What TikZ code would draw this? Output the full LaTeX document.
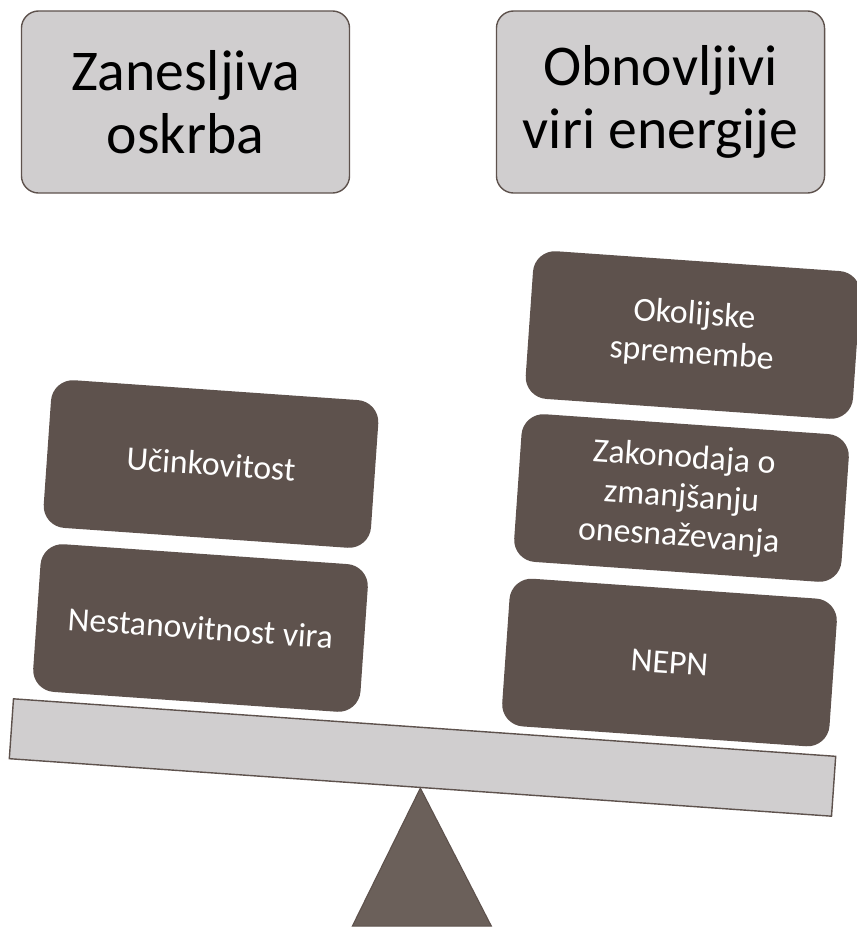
\documentclass[tikz,border=0pt]{standalone}
\usepackage{fontspec}
\setmainfont{Carlito}
\usepackage{tikz}
\usetikzlibrary{positioning}
\definecolor{weightbrown}{HTML}{5E524D}
\definecolor{beamgray}{HTML}{D0CECF}
\definecolor{pivotbrown}{HTML}{6B605A}

\begin{document}
\begin{tikzpicture}[x=0.025cm, y=-0.025cm,
	goal/.style={draw=weightbrown, line width=1pt, fill=beamgray, rounded corners=0.43cm,
		minimum width=8.2cm, minimum height=4.55cm, align=center,
		font=\fontsize{41}{45}\selectfont},
	weight/.style={fill=weightbrown, rounded corners=0.55cm, rotate=-4,
		minimum width=8.2cm, minimum height=3.7cm, align=center, text=white,
		font=\fontsize{24}{28}\selectfont}]
	\useasboundingbox (0,0) rectangle (856,927);
	% the two goals
	\node[goal] (supply) at (185.5,102) {Zanesljiva\\oskrba};
	\node[goal] (renew) at (660.5,102) {Obnovljivi\\viri energije};
	% weights on the scale
	\node[weight] (effic) at (211,464) {Učinkovitost};
	\node[weight] (unstable) at (200.5,628) {Nestanovitnost vira};
	\node[weight] (env) at (693,335) {Okolijske\\spremembe};
	\node[weight] (law) at (681.5,498) {Zakonodaja o\\zmanjšanju\\onesnaževanja};
	\node[weight] (nepn) at (669.5,662.5) {NEPN};
	% beam and pivot
	\node[draw=weightbrown, line width=1pt, fill=beamgray, rotate=-4,
		minimum width=20.6cm, minimum height=1.5cm] (beam) at (422.5,757.5) {};
	\filldraw[fill=pivotbrown, draw=weightbrown, line width=0.8pt]
		(beam.south) -- ++(-68,138) -- ++(139,0) -- cycle;
\end{tikzpicture}
\end{document}
